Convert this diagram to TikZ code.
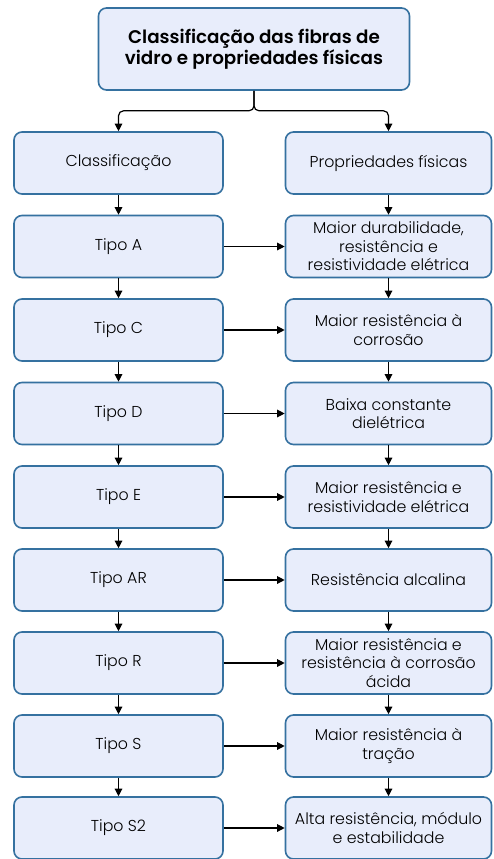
\documentclass[tikz,border=0pt]{standalone}
\usepackage{fontspec}
\setmainfont{Poppins}[UprightFont={* Light}, BoldFont={* SemiBold}]
\usetikzlibrary{arrows.meta}
\definecolor{boxfill}{HTML}{E8EDFB}
\definecolor{boxdraw}{HTML}{3571A0}
\tikzset{
  box/.style={draw=boxdraw, fill=boxfill, line width=1.6pt, rounded corners=8pt,
    align=center, inner sep=2pt, font=\fontsize{15.8}{18.5}\selectfont},
  lbox/.style={box, minimum width=209pt, minimum height=62pt},
  rbox/.style={box, minimum width=206pt, minimum height=62pt},
  conn/.style={draw=black, line width=1.2pt, -{Triangle[width=7.5pt,length=7.5pt]}},
}
\begin{document}
\begin{tikzpicture}[x=1pt,y=-1pt]
\useasboundingbox[fill=white] (0,0) rectangle (493,859);
\node[box, minimum width=311pt, minimum height=82pt, font=\bfseries\fontsize{18.3}{20.5}\selectfont] (top) at (254,49) {Classificação das fibras de\\vidro e propriedades físicas};

\node[lbox] (l0) at (118.5,163) {Classificação};
\node[rbox] (r0) at (388.5,163) {Propriedades físicas};
\node[lbox] (l1) at (118.5,246.5) {Tipo A};
\node[rbox] (r1) at (388.5,246.5) {Maior durabilidade,\\resistência e\\resistividade elétrica};
\node[lbox] (l2) at (118.5,330) {Tipo C};
\node[rbox] (r2) at (388.5,330) {Maior resistência à\\corrosão};
\node[lbox] (l3) at (118.5,413.5) {Tipo D};
\node[rbox] (r3) at (388.5,413.5) {Baixa constante\\dielétrica};
\node[lbox] (l4) at (118.5,497) {Tipo E};
\node[rbox] (r4) at (388.5,497) {Maior resistência e\\resistividade elétrica};
\node[lbox] (l5) at (118.5,580) {Tipo AR};
\node[rbox] (r5) at (388.5,580) {Resistência alcalina};
\node[lbox] (l6) at (118.5,663) {Tipo R};
\node[rbox] (r6) at (388.5,663) {Maior resistência e\\resistência à corrosão\\ácida};
\node[lbox] (l7) at (118.5,746) {Tipo S};
\node[rbox] (r7) at (388.5,746) {Maior resistência à\\tração};
\node[lbox] (l8) at (118.5,828) {Tipo S2};
\node[rbox] (r8) at (388.5,828) {Alta resistência, módulo\\e estabilidade};

\draw[conn, rounded corners=5pt] (top.south) -- ++(0,20) -| (l0.north);
\draw[conn, rounded corners=5pt] (top.south) -- ++(0,20) -| (r0.north);

\foreach \a/\b in {0/1,1/2,2/3,3/4,4/5,5/6,6/7,7/8}{
  \draw[conn] (l\a.south) -- (l\b.north);
  \draw[conn] (r\a.south) -- (r\b.north);
}
\foreach \i in {1,...,8}{
  \draw[conn] (l\i.east) -- (r\i.west);
}
\end{tikzpicture}
\end{document}
